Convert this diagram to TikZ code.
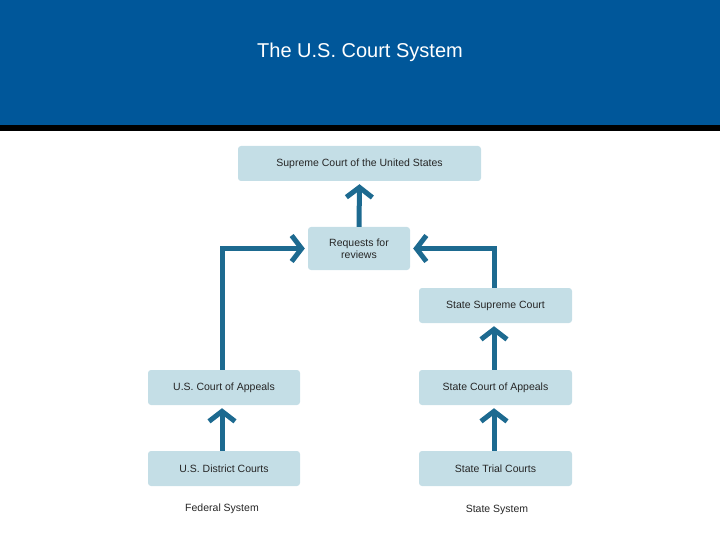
\documentclass[tikz,border=0pt]{standalone}
\usepackage{fontspec}
\setmainfont{Liberation Sans}
\usetikzlibrary{arrows.meta}
\definecolor{hdr}{HTML}{00579A}
\definecolor{arr}{HTML}{1D6A90}
\definecolor{boxc}{HTML}{C4DEE6}
\begin{document}
\begin{tikzpicture}[x=1pt,y=-1pt,
  box/.style={fill=boxc,rounded corners=3pt,inner sep=0pt,font=\fontsize{10.5}{12}\selectfont,align=center,text=black!85},
  conn/.style={draw=arr,line width=5pt,-{Straight Barb[length=10pt,width=26pt,line width=5pt]}},
  lab/.style={font=\fontsize{10.5}{12}\selectfont,text=black!85}]
\useasboundingbox (0,0) rectangle (720,540);
\fill[hdr] (0,0) rectangle (720,125);
\fill[black] (0,125) rectangle (720,131);
\node[text=white,font=\fontsize{20}{24}\selectfont] (title) at (360,52) {The U.S. Court System};
\node[box,minimum width=243pt,minimum height=35pt] (sup) at (359.5,163.5) {Supreme Court of the United States};
\node[box,minimum width=102pt,minimum height=43pt] (req) at (359,248.5) {Requests for\\reviews};
\node[box,minimum width=153pt,minimum height=35pt] (ssc) at (495.5,305.5) {State Supreme Court};
\node[box,minimum width=152pt,minimum height=35pt] (uca) at (224,387.5) {U.S. Court of Appeals};
\node[box,minimum width=153pt,minimum height=35pt] (sca) at (495.5,387.5) {State Court of Appeals};
\node[box,minimum width=152pt,minimum height=35pt] (udc) at (224,468.5) {U.S. District Courts};
\node[box,minimum width=153pt,minimum height=35pt] (stc) at (495.5,468.5) {State Trial Courts};
\node[lab] (fed) at (222,509) {Federal System};
\node[lab] (sts) at (497,510) {State System};
\draw[conn] (req.north) -- ([yshift=-3pt]sup.south);
\draw[conn] (uca.north -| 222,0) |- ([xshift=-3pt]req.west);
\draw[conn] (ssc.north -| 494,0) |- ([xshift=3pt]req.east);
\draw[conn] (udc.north -| 222,0) -- ([yshift=-3pt]uca.south -| 222,0);
\draw[conn] (stc.north -| 494,0) -- ([yshift=-3pt]sca.south -| 494,0);
\draw[conn] (sca.north -| 494,0) -- ([yshift=-3pt]ssc.south -| 494,0);
\end{tikzpicture}
\end{document}
